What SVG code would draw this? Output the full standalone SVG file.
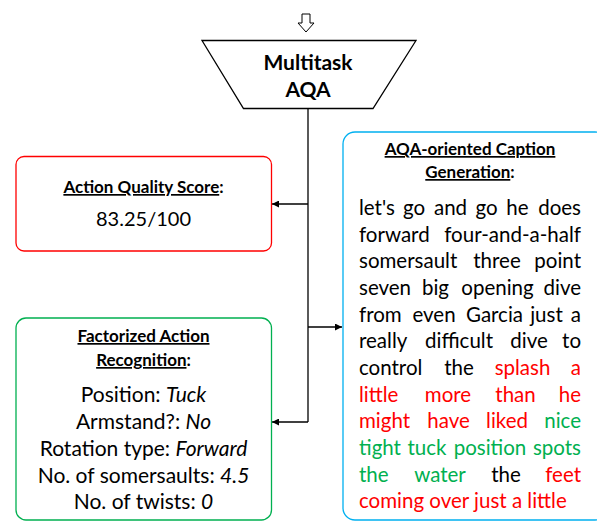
<svg xmlns="http://www.w3.org/2000/svg" width="597" height="521" viewBox="0 0 597 521">
<style>
text{font-family:Lato,"Open Sans","Liberation Sans",sans-serif;fill:#000}
.t{font-weight:bold;font-size:17px;text-anchor:middle}
.m{font-weight:bold;font-size:21px;text-anchor:middle}
.g{font-size:21px;text-anchor:middle}
.w{font-size:20.5px}
.s{text-anchor:start}.c{text-anchor:middle}.e{text-anchor:end}
.r{fill:#FF0000}.gr{fill:#00B050}
.u{text-decoration:underline}
.ln{stroke:#000;stroke-width:1.3;fill:none}
</style>
<defs>
<marker id="ah" viewBox="0 0 10 10" refX="10" refY="5" markerWidth="7" markerHeight="7" markerUnits="userSpaceOnUse" orient="auto"><path d="M0,0 L10,5 L0,10 Z" fill="#000"/></marker>
</defs>
<g id="input-arrow"><path d="M302,14 H310 V23 H314 L306,32 L298,23 H302 Z" fill="#fff" stroke="#000" stroke-width="1"/></g>
<g id="multitask">
<path d="M202,40.5 H416 L373,108.5 H243.5 Z" fill="#fff" stroke="#000" stroke-width="1.3"/>
<text class="m" x="308" y="70">Multitask</text>
<text class="m" x="308" y="97">AQA</text>
</g>
<g id="connectors">
<path class="ln" d="M308,108.5 V422"/>
<path class="ln" d="M308,204 H272" marker-end="url(#ah)"/>
<path class="ln" d="M308,327 H342" marker-end="url(#ah)"/>
<path class="ln" d="M308,422 H272" marker-end="url(#ah)"/>
</g>
<g id="score">
<rect x="16" y="156.5" width="255.5" height="94.5" rx="8" fill="#fff" stroke="#FF0000" stroke-width="1.3"/>
<text class="t" x="143.5" y="193"><tspan class="u">Action Quality Score</tspan>:</text>
<text class="g" x="143.5" y="226" style="font-size:20px">83.25/100</text>
</g>
<g id="recognition">
<rect x="16" y="318" width="255.5" height="202" rx="10" fill="#fff" stroke="#00B050" stroke-width="1.3"/>
<text class="t" x="143.5" y="342"><tspan class="u">Factorized Action</tspan></text>
<text class="t" x="143.5" y="366"><tspan class="u">Recognition</tspan>:</text>
<text class="g" x="143.5" y="402">Position: <tspan font-style="italic">Tuck</tspan></text>
<text class="g" x="143.5" y="429">Armstand?: <tspan font-style="italic">No</tspan></text>
<text class="g" x="143.5" y="456">Rotation type: <tspan font-style="italic">Forward</tspan></text>
<text class="g" x="143.5" y="483">No. of somersaults: <tspan font-style="italic">4.5</tspan></text>
<text class="g" x="143.5" y="509">No. of twists: <tspan font-style="italic">0</tspan></text>
</g>
<g id="caption">
<rect x="343" y="132" width="264" height="388" rx="12" fill="#fff" stroke="#00B0F0" stroke-width="1.3"/>
<text class="t" x="470" y="155"><tspan class="u">AQA-oriented Caption</tspan></text>
<text class="t" x="470" y="178"><tspan class="u">Generation</tspan>:</text>
<g class="w">
<text y="215"><tspan class="s" x="359">let's</tspan><tspan class="c" x="414">go</tspan><tspan class="c" x="450.5">and</tspan><tspan class="c" x="486.5">go</tspan><tspan class="c" x="517.5">he</tspan><tspan class="e" x="581">does</tspan></text>
<text y="242"><tspan class="s" x="359">forward</tspan><tspan class="e" x="581">four-and-a-half</tspan></text>
<text y="268"><tspan class="s" x="359">somersault</tspan><tspan class="c" x="497">three</tspan><tspan class="e" x="581">point</tspan></text>
<text y="295"><tspan class="s" x="359">seven</tspan><tspan class="c" x="435.5">big</tspan><tspan class="c" x="497.5">opening</tspan><tspan class="e" x="581">dive</tspan></text>
<text y="322"><tspan class="s" x="359">from</tspan><tspan class="c" x="434">even</tspan><tspan class="c" x="494.5">Garcia</tspan><tspan class="c" x="546.5">just</tspan><tspan class="e" x="581">a</tspan></text>
<text y="348"><tspan class="s" x="359">really</tspan><tspan class="c" x="459">difficult</tspan><tspan class="c" x="529">dive</tspan><tspan class="e" x="581">to</tspan></text>
<text y="375"><tspan class="s" x="359">control</tspan><tspan class="c" x="459">the</tspan><tspan class="c r" x="522.5">splash</tspan><tspan class="e r" x="581">a</tspan></text>
<text y="402"><tspan class="s r" x="359">little</tspan><tspan class="c r" x="448">more</tspan><tspan class="c r" x="515.5">than</tspan><tspan class="e r" x="581">he</tspan></text>
<text y="428"><tspan class="s r" x="359">might</tspan><tspan class="c r" x="448.5">have</tspan><tspan class="c r" x="507">liked</tspan><tspan class="e gr" x="581">nice</tspan></text>
<text y="455"><tspan class="s gr" x="359">tight</tspan><tspan class="c gr" x="427">tuck</tspan><tspan class="c gr" x="490">position</tspan><tspan class="e gr" x="581">spots</tspan></text>
<text y="482"><tspan class="s gr" x="359">the</tspan><tspan class="c gr" x="440">water</tspan><tspan class="c" x="506">the</tspan><tspan class="e r" x="581">feet</tspan></text>
<text y="508" class="r" x="359">coming over just a little</text>
</g>
</g>
</svg>
